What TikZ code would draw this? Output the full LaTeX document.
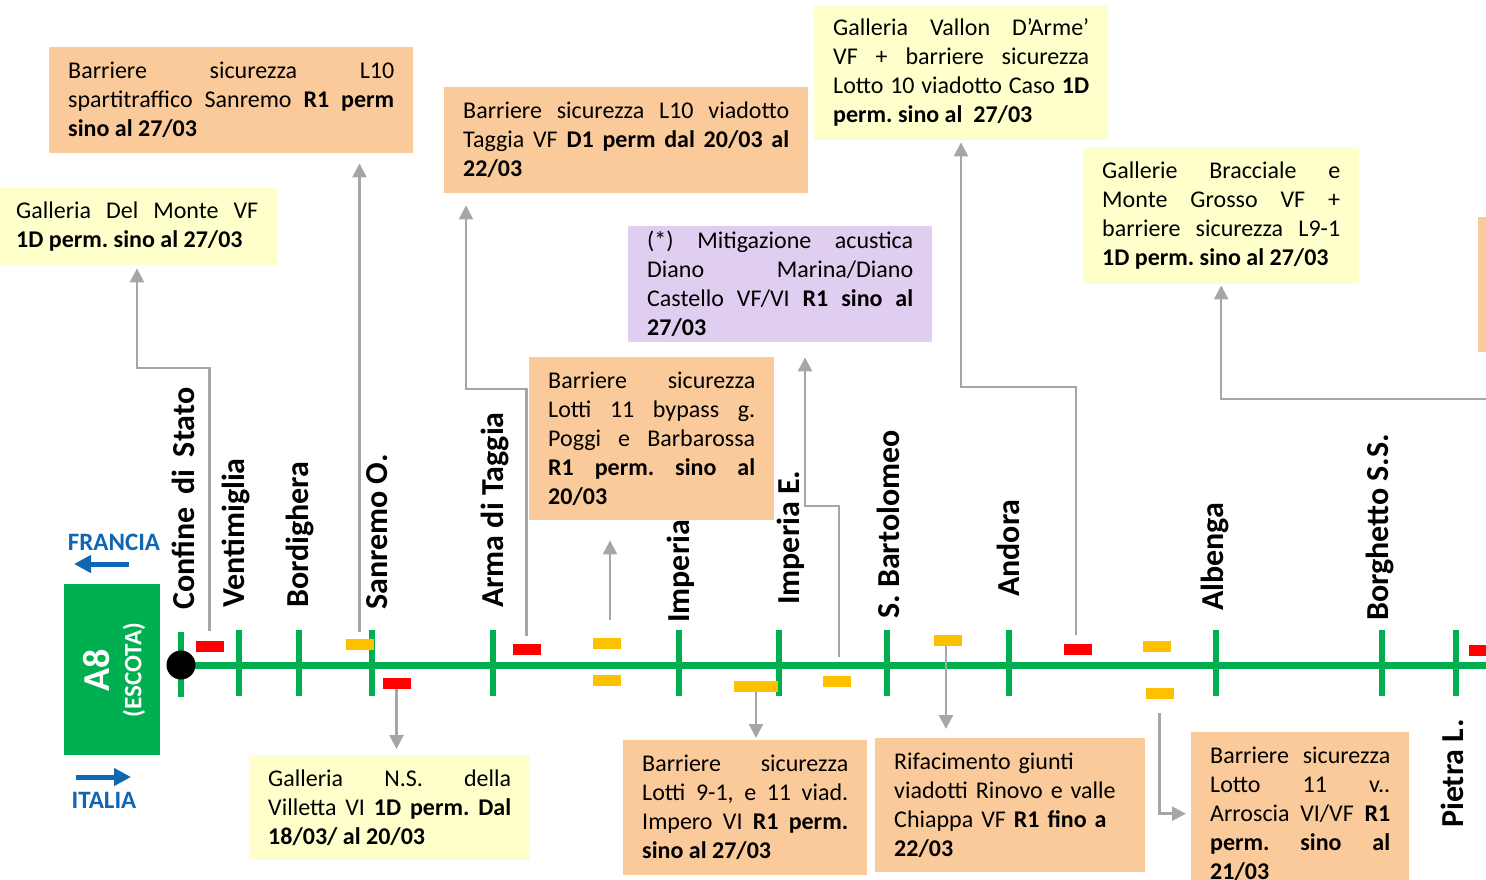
\documentclass[tikz,border=0pt]{standalone}
\usepackage{fontspec}
\setmainfont{Carlito}
\usepackage{tikz}
\usetikzlibrary{arrows.meta}
\frenchspacing
\definecolor{roadgreen}{HTML}{00B050}
\definecolor{boxorange}{HTML}{FBCA9A}
\definecolor{boxyellow}{HTML}{FFFFCC}
\definecolor{boxpurple}{HTML}{E0CEF0}
\definecolor{mkred}{HTML}{FF0000}
\definecolor{mkyellow}{HTML}{FFC000}
\definecolor{conngrey}{HTML}{A6A6A6}
\definecolor{dirblue}{HTML}{0F67B1}
\tikzset{%
  infobox/.style={anchor=north west, align=justify, inner xsep=19pt, inner ysep=0pt,
    font=\fontsize{24}{29}\selectfont},
  orangebox/.style={infobox, fill=boxorange},
  yellowbox/.style={infobox, fill=boxyellow},
  purplebox/.style={infobox, fill=boxpurple},
  station/.style={rotate=90, anchor=west, inner sep=0pt, font=\fontsize{32}{32}\selectfont\bfseries},
  redmark/.style={fill=mkred, minimum width=28pt, minimum height=11pt, inner sep=0pt},
  yellowmark/.style={fill=mkyellow, minimum width=28pt, minimum height=11pt, inner sep=0pt},
  conn/.style={draw=conngrey, line width=2.5pt, -{Triangle[length=14pt,width=14pt]}},
  dirarrow/.style={draw=dirblue, line width=5pt, -{Triangle[length=17pt,width=17pt]}},
  dirlabel/.style={text=dirblue, inner sep=0pt, font=\fontsize{25}{25}\selectfont\bfseries}
}

\begin{document}
\begin{tikzpicture}[x=1pt,y=-1pt]
\useasboundingbox (0,0) rectangle (1486,879);

% notes above the motorway
\node[orangebox, text width=326pt, minimum height=106pt] (bSpart) at (49,47) {Barriere sicurezza L10\linebreak spartitraffico Sanremo \textbf{R1 perm}\linebreak \textbf{sino al 27/03}};
\node[yellowbox, text width=242pt, minimum height=77pt] (bMonte) at (-3,188) {Galleria Del Monte VF\linebreak \textbf{1D perm. sino al 27/03}};
\node[orangebox, text width=326pt, minimum height=106pt] (bTaggia) at (444,87) {Barriere sicurezza L10 viadotto\linebreak Taggia VF \textbf{D1 perm dal 20/03 al}\linebreak \textbf{22/03}};
\node[yellowbox, text width=256pt, minimum height=135pt] (bVallon) at (814,5) {Galleria Vallon D’Arme’\linebreak VF + barriere sicurezza\linebreak Lotto 10 viadotto Caso \textbf{1D}\linebreak \textbf{perm. sino al\ \ 27/03}};
\node[yellowbox, text width=238pt, minimum height=137pt] (bBracc) at (1083,147) {Gallerie Bracciale e\linebreak Monte Grosso VF +\linebreak barriere sicurezza L9-1\linebreak \textbf{1D perm. sino al 27/03}};
\node[orangebox, minimum width=60pt, minimum height=135pt] (bRight) at (1478,217) {};
\node[purplebox, text width=266pt, minimum height=116pt] (bMitig) at (628,226) {(*) Mitigazione acustica\linebreak Diano Marina/Diano\linebreak Castello VF/VI \textbf{R1 sino al}\linebreak \textbf{27/03}};
\node[orangebox, text width=207pt, minimum height=163pt] (bPoggi) at (529,357) {Barriere sicurezza\linebreak Lotti 11 bypass g.\linebreak Poggi e Barbarossa\linebreak \textbf{R1 perm. sino al}\linebreak \textbf{20/03}};

% notes below the motorway
\node[yellowbox, text width=243pt, minimum height=105pt] (bVillet) at (249,755) {Galleria N.S. della\linebreak Villetta VI \textbf{1D perm. Dal}\linebreak \textbf{18/03/ al 20/03}};
\node[orangebox, text width=206pt, minimum height=135pt] (bImpero) at (623,740) {Barriere sicurezza\linebreak Lotti 9-1, e 11 viad.\linebreak Impero VI \textbf{R1 perm.}\linebreak \textbf{sino al 27/03}};
\node[orangebox, align=left, text width=232pt, minimum height=134pt] (bRinovo) at (875,738) {Rifacimento giunti\\ viadotti Rinovo e valle\\ Chiappa VF \textbf{R1 fino a}\\ \textbf{22/03}};
\node[orangebox, text width=180pt, minimum height=163pt] (bArroscia) at (1191,732) {Barriere sicurezza\linebreak Lotto 11 v..\linebreak Arroscia VI/VF \textbf{R1}\linebreak \textbf{perm. sino al}\linebreak \textbf{21/03}};

% A8 sign and directions
\node[fill=roadgreen, anchor=north west, minimum width=96pt, minimum height=171pt, inner sep=0pt] (a8box) at (64,584) {};
\node[rotate=90, text=white, inner sep=0pt, font=\fontsize{38}{38}\selectfont\bfseries] (a8) at (97,670) {A8};
\node[rotate=90, text=white, inner sep=0pt, font=\fontsize{25}{25}\selectfont\bfseries] (escota) at (134,670) {(ESCOTA)};
\node[dirlabel] (francia) at (114,542) {FRANCIA};
\node[dirlabel] (italia) at (104,800) {ITALIA};
\coordinate (frTail) at (129,564);
\coordinate (frHead) at (74,564);
\coordinate (itTail) at (76,777);
\coordinate (itHead) at (131,777);
\draw[dirarrow] (frTail) -- (frHead);
\draw[dirarrow] (itTail) -- (itHead);

% motorway
\draw[roadgreen, line width=7pt] (181,665) -- (1490,665);
\draw[roadgreen, line width=6pt] (181,632) -- (181,697) (239,630) -- (239,696) (299,630) -- (299,696)
  (372,630) -- (372,696) (493,630) -- (493,696) (679,630) -- (679,696) (779,630) -- (779,696)
  (887,630) -- (887,696) (1009,630) -- (1009,696) (1216,630) -- (1216,696) (1382,630) -- (1382,696)
  (1456,630) -- (1456,696);
\fill (181,665) circle[radius=14.5pt];

% exits
\node[station] (sConfine) at (183,610) {Confine\hspace{0.4em}di\hspace{0.4em}Stato};
\node[station] (sVent) at (236,608) {Ventimiglia};
\node[station] (sBord) at (300,608) {Bordighera};
\node[station] (sSanr) at (377,610) {Sanremo O.};
\node[station] (sArma) at (495,608) {Arma di Taggia};
\node[station] (sImp) at (681,623) {Imperia};
\node[station] (sImpE) at (791,605) {Imperia E.};
\node[station] (sBart) at (888,619) {S. Bartolomeo};
\node[station] (sAnd) at (1008,597) {Andora};
\node[station] (sAlb) at (1215,611) {Albenga};
\node[station] (sBorg) at (1380,621) {Borghetto S.S.};
\node[station] (sPietra) at (1452,828) {Pietra L.};

% worksites
\node[redmark] (rVent) at (209.5,646) {};
\node[yellowmark] (ySanr) at (359.5,644.5) {};
\node[redmark] (rSanr) at (396.5,683) {};
\node[redmark] (rArma) at (526.5,649.5) {};
\node[yellowmark] (yImpA) at (607,643) {};
\node[yellowmark] (yImpB) at (607,680) {};
\node[yellowmark, minimum width=44pt] (yImpE) at (756,686.5) {};
\node[yellowmark] (yImpEb) at (836.5,681) {};
\node[yellowmark] (yBart) at (947.5,640.5) {};
\node[redmark] (rAnd) at (1077.5,649) {};
\node[yellowmark] (yAlbA) at (1156.5,646) {};
\node[yellowmark] (yAlbB) at (1159.5,693.5) {};
\node[redmark] (rPietra) at (1483,650.5) {};

% links to the notes
\coordinate (kVent) at (137,368);
\draw[conn, shorten <=9pt, shorten >=3pt] (rVent.north) |- (kVent) -- (kVent |- bMonte.south);
\draw[conn, shorten <=7pt, shorten >=10pt] (ySanr.north) -- (ySanr.north |- bSpart.south);
\coordinate (kArma) at (466,389);
\draw[conn, shorten <=8pt, shorten >=12pt] (rArma.north) |- (kArma) -- (kArma |- bTaggia.south);
\draw[conn, shorten <=17pt, shorten >=20pt] ([xshift=3pt]yImpA.north) -- ([xshift=3pt]yImpA.north |- bPoggi.south);
\coordinate (kImpE) at (805,506);
\draw[conn, shorten <=18pt, shorten >=15pt] ([xshift=2.5pt]yImpEb.north) |- (kImpE) -- (kImpE |- bMitig.south);
\coordinate (kAnd) at (961,387);
\draw[conn, shorten <=8pt, shorten >=2pt] ([xshift=-1.5pt]rAnd.north) |- (kAnd) -- (kAnd |- bVallon.south);
\coordinate (kEdge) at (1490,399);
\draw[conn, shorten >=1pt] (kEdge) -| (bBracc.south);
\draw[conn, shorten >=6pt] (rSanr.south) -- (rSanr.south |- bVillet.north);
\draw[conn, shorten >=2pt] (yImpE.south) -- (yImpE.south |- bImpero.north);
\draw[conn, shorten >=9pt] ([xshift=-1.5pt]yBart.south) -- ([xshift=-1.5pt]yBart.south |- bRinovo.north);
\draw[conn, shorten <=14pt, shorten >=5pt] (yAlbB.south) |- (bArroscia.west);
\end{tikzpicture}
\end{document}
